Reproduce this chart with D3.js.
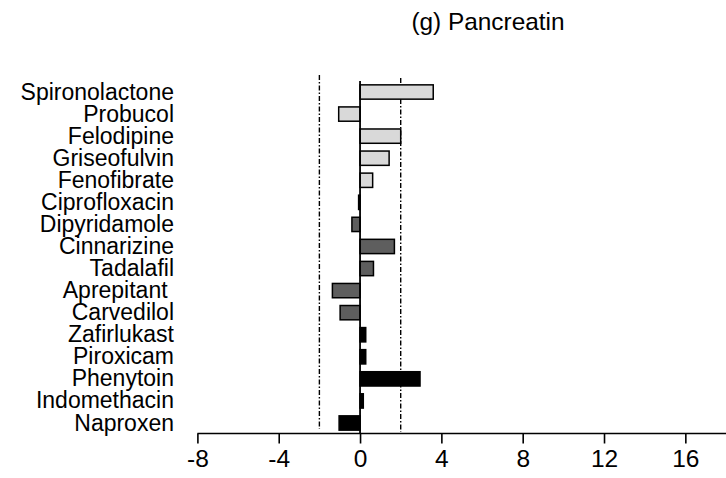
<!DOCTYPE html>
<html>
<head>
<meta charset="utf-8">
<script src="https://cdn.jsdelivr.net/npm/d3@7"></script>
<style>
  html, body { margin: 0; padding: 0; background: #fff; }
  svg text { font-family: Arial, "Liberation Sans", Helvetica, sans-serif; fill: #000; }
</style>
</head>
<body>
<svg id="chart" width="726" height="478"></svg>
<script>
// Drug names, top to bottom
const drugs = [
  "Spironolactone", "Probucol", "Felodipine", "Griseofulvin", "Fenofibrate",
  "Ciprofloxacin", "Dipyridamole", "Cinnarizine", "Tadalafil", "Aprepitant ",
  "Carvedilol", "Zafirlukast", "Piroxicam", "Phenytoin", "Indomethacin", "Naproxen"
];
// Change measured with pancreatin for each drug
const values = [
  3.6, -1.05, 2.0, 1.43, 0.62,
  -0.07, -0.4, 1.69, 0.66, -1.36,
  -0.98, 0.28, 0.28, 2.95, 0.16, -1.03
];
// Drug group of each bar (sets the fill)
const groups = [
  "A", "A", "A", "A", "A",
  "A", "B", "B", "B", "B",
  "B", "C", "C", "C", "C", "C"
];
const groupNames = ["A", "B", "C"];
const groupFills = ["#d9d9d9", "#5e5e5e", "#000000"];
// Axis ticks and threshold lines
const xTicks = [-8, -4, 0, 4, 8, 12, 16];
const thresholds = [-2, 2];
const title = "(g) Pancreatin";

const svg = d3.select("#chart");

const x = d3.scaleLinear().domain([-8, 18]).range([197.4, 726]);
const y = d3.scalePoint().domain(drugs).range([92, 423]);
const fill = d3.scaleOrdinal().domain(groupNames).range(groupFills);
const barH = 14.3;
const axisY = 433.5;

// Title
svg.append("text")
  .attr("x", 488).attr("y", 30)
  .attr("text-anchor", "middle")
  .style("font-size", "24.4px")
  .text(title);

// Threshold lines (dash-dot)
svg.append("g").selectAll("line")
  .data(thresholds)
  .join("line")
  .attr("x1", d => x(d)).attr("x2", d => x(d))
  .attr("y1", d => d < 0 ? 75 : 78)
  .attr("y2", d => d < 0 ? 429 : 432)
  .attr("stroke", "#000")
  .attr("stroke-width", 1.4)
  .attr("stroke-dasharray", "5,2,1.5,2");

// Bars
svg.append("g").selectAll("rect")
  .data(drugs)
  .join("rect")
  .attr("x", (d, i) => x(Math.min(0, values[i])))
  .attr("width", (d, i) => Math.abs(x(values[i]) - x(0)))
  .attr("y", d => y(d) - barH / 2)
  .attr("height", barH)
  .attr("fill", (d, i) => fill(groups[i]))
  .attr("stroke", "#000")
  .attr("stroke-width", 1.5);

// Zero line
svg.append("line")
  .attr("x1", x(0)).attr("x2", x(0))
  .attr("y1", 81).attr("y2", axisY)
  .attr("stroke", "#000")
  .attr("stroke-width", 1.8);

// Drug labels
svg.append("g").selectAll("text")
  .data(drugs)
  .join("text")
  .attr("x", 174)
  .attr("y", d => y(d) + 7.5)
  .attr("text-anchor", "end")
  .style("white-space", "pre")
  .style("font-size", "23px")
  .text(d => d);

// Bottom axis
const axis = d3.axisBottom(x)
  .tickValues(xTicks)
  .tickFormat(d3.format("d"))
  .tickSize(10)
  .tickSizeOuter(0)
  .tickPadding(6);

const gx = svg.append("g")
  .attr("transform", `translate(0,${axisY})`)
  .call(axis);
gx.select(".domain").attr("stroke-width", 1.6).attr("d", `M${x(-8)},0H726`);
gx.selectAll(".tick line").attr("stroke-width", 1.6);
gx.selectAll(".tick text")
  .style("font-size", "24.5px")
  .style("font-family", "Arial, 'Liberation Sans', sans-serif")
  .text(d => d < 0 ? "-" + Math.abs(d) : d);
</script>
</body>
</html>
